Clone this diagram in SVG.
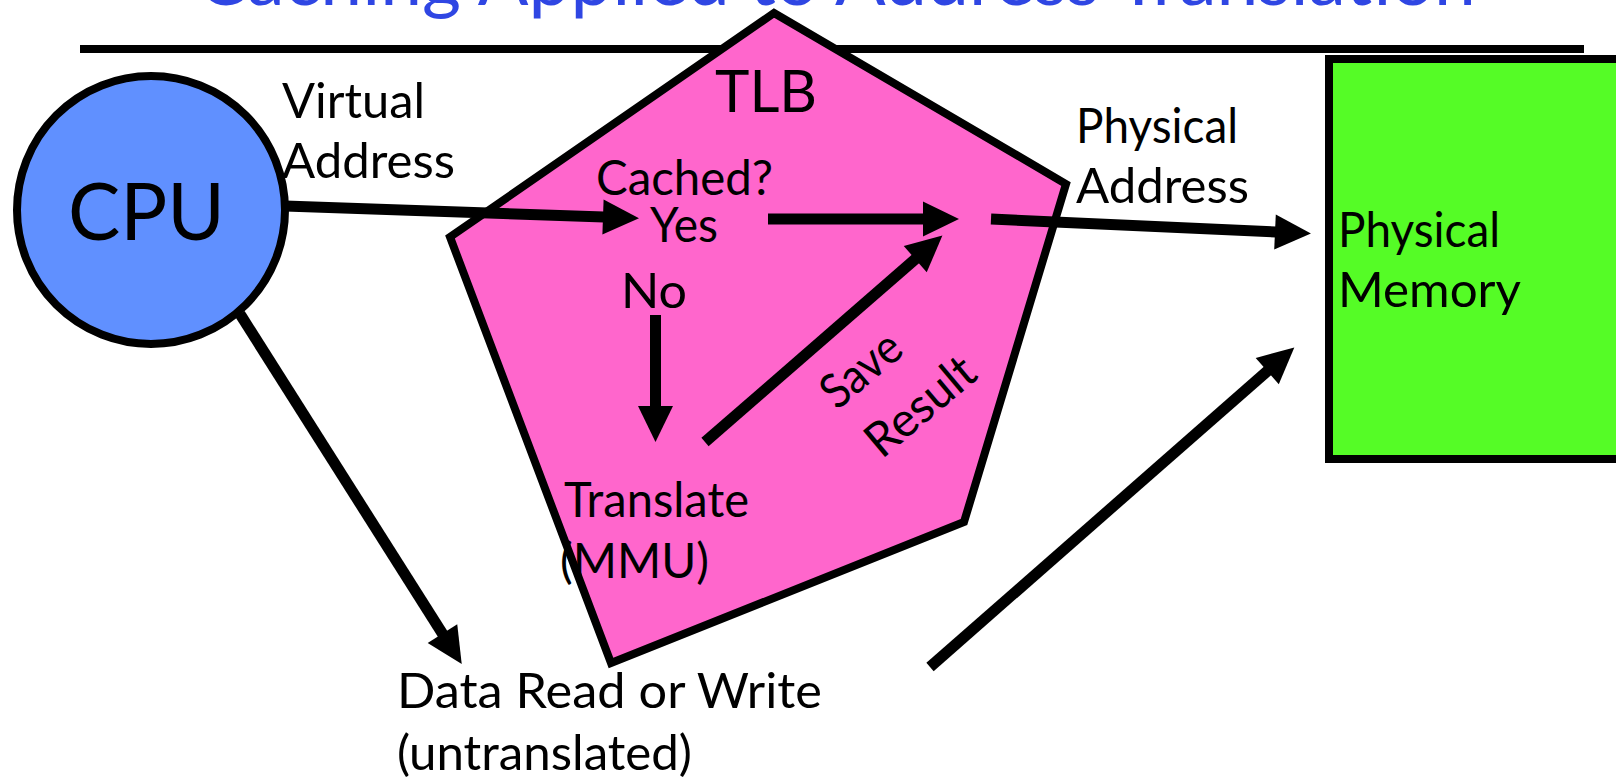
<svg xmlns="http://www.w3.org/2000/svg" width="1616" height="782" viewBox="0 0 1616 782">
  <style>
    text { font-family: Lato, "Liberation Sans", sans-serif; fill: #000; }
    .lbl { font-size: 48px; }
    .title { font-size: 76px; fill: #2F46E3; }
    .edge { stroke: #000; stroke-width: 11; fill: none; marker-end: url(#ah); }
    .outline { stroke: #000; stroke-width: 8; stroke-linejoin: miter; }
  </style>
  <defs>
    <marker id="ah" markerUnits="userSpaceOnUse" markerWidth="37" markerHeight="35" refX="1" refY="17.5" orient="auto" overflow="visible">
      <path d="M0,0 L36,17.5 L0,35 z" fill="#000"/>
    </marker>
  </defs>

  <rect width="1616" height="782" fill="#fff"/>

  <!-- heading and rule -->
  <g id="title">
    <text class="title" x="197" y="5" textLength="1279" lengthAdjust="spacingAndGlyphs">Caching Applied to Address Translation</text>
    <line x1="80" y1="49" x2="1584" y2="49" stroke="#000" stroke-width="8"/>
  </g>

  <!-- TLB pentagon with its inner labels -->
  <g id="tlb">
    <polygon class="outline" points="774,13 1066,184 964,522 611,663 450,237" fill="#FF66CC"/>
    <text x="715" y="112" font-size="58" textLength="102" lengthAdjust="spacingAndGlyphs">TLB</text>
    <text class="lbl" x="596" y="195" textLength="177" lengthAdjust="spacingAndGlyphs">Cached?</text>
    <text class="lbl" x="650" y="242" textLength="68" lengthAdjust="spacingAndGlyphs">Yes</text>
    <text class="lbl" x="621" y="308" textLength="66" lengthAdjust="spacingAndGlyphs">No</text>
    <text class="lbl" x="564" y="517" textLength="185" lengthAdjust="spacingAndGlyphs">Translate</text>
    <text class="lbl" x="560" y="578" textLength="149" lengthAdjust="spacingAndGlyphs">(MMU)</text>
    <g transform="translate(837,411) rotate(-40)">
      <text class="lbl" x="0" y="0" textLength="90" lengthAdjust="spacingAndGlyphs">Save</text>
      <text class="lbl" x="3" y="66" textLength="128" lengthAdjust="spacingAndGlyphs">Result</text>
    </g>
  </g>

  <!-- CPU -->
  <g id="cpu">
    <circle class="outline" cx="151" cy="210" r="134" fill="#6090FF"/>
    <text x="68" y="240" font-size="80" textLength="157" lengthAdjust="spacingAndGlyphs">CPU</text>
  </g>

  <!-- physical memory block -->
  <g id="memory">
    <rect class="outline" x="1329" y="59" width="300" height="400" fill="#55FC26"/>
    <text class="lbl" x="1338" y="247" textLength="162" lengthAdjust="spacingAndGlyphs">Physical</text>
    <text class="lbl" x="1338" y="307" textLength="183" lengthAdjust="spacingAndGlyphs">Memory</text>
  </g>

  <!-- free-standing labels -->
  <g id="virtual-address">
    <text class="lbl" x="282" y="118" textLength="143" lengthAdjust="spacingAndGlyphs">Virtual</text>
    <text class="lbl" x="282" y="178" textLength="173" lengthAdjust="spacingAndGlyphs">Address</text>
  </g>
  <g id="physical-address">
    <text class="lbl" x="1076" y="143" textLength="162" lengthAdjust="spacingAndGlyphs">Physical</text>
    <text class="lbl" x="1076" y="203" textLength="173" lengthAdjust="spacingAndGlyphs">Address</text>
  </g>
  <g id="data-access">
    <text class="lbl" x="397" y="708" textLength="425" lengthAdjust="spacingAndGlyphs">Data Read or Write</text>
    <text class="lbl" x="397" y="770" textLength="295" lengthAdjust="spacingAndGlyphs">(untranslated)</text>
  </g>

  <!-- connectors -->
  <g id="connectors">
    <line class="edge" x1="285" y1="206" x2="604" y2="217"/>
    <line class="edge" x1="768" y1="219" x2="924" y2="219"/>
    <line class="edge" x1="991" y1="219" x2="1276" y2="232"/>
    <line class="edge" x1="655.5" y1="315" x2="655.5" y2="407"/>
    <line class="edge" x1="705" y1="442" x2="916" y2="258.5"/>
    <line class="edge" x1="240" y1="314" x2="443" y2="634.5"/>
    <line class="edge" x1="930" y1="667" x2="1268" y2="370.5"/>
  </g>
</svg>
